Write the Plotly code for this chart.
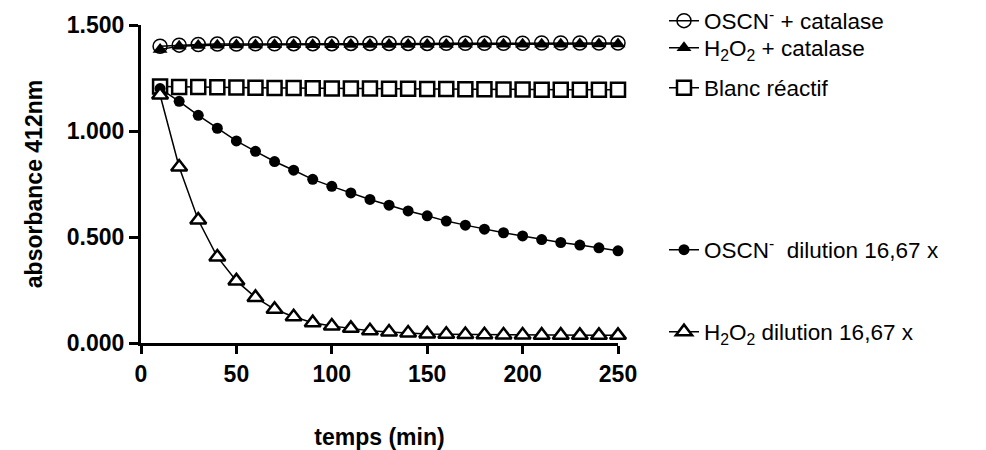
import plotly.graph_objects as go

time_min = [10, 20, 30, 40, 50, 60, 70, 80, 90, 100, 110, 120, 130, 140, 150,
            160, 170, 180, 190, 200, 210, 220, 230, 240, 250]

oscn_catalase = [1.400, 1.405, 1.408, 1.410, 1.410, 1.411, 1.411, 1.412, 1.412, 1.412,
                 1.413, 1.413, 1.413, 1.413, 1.413, 1.414, 1.414, 1.414, 1.414, 1.414,
                 1.415, 1.415, 1.415, 1.415, 1.415]
h2o2_catalase = [1.385, 1.400, 1.403, 1.405, 1.406, 1.406, 1.407, 1.407, 1.407, 1.407,
                 1.408, 1.408, 1.408, 1.408, 1.408, 1.408, 1.409, 1.409, 1.409, 1.409,
                 1.409, 1.409, 1.410, 1.410, 1.410]
blanc_reactif = [1.210, 1.208, 1.207, 1.206, 1.205, 1.204, 1.203, 1.203, 1.202, 1.201,
                 1.200, 1.200, 1.199, 1.199, 1.198, 1.198, 1.197, 1.197, 1.196, 1.196,
                 1.195, 1.195, 1.195, 1.194, 1.194]
oscn_dilution = [1.200, 1.140, 1.074, 1.013, 0.953, 0.904, 0.856, 0.815, 0.772, 0.739,
                 0.708, 0.677, 0.650, 0.623, 0.600, 0.575, 0.556, 0.537, 0.520, 0.505,
                 0.488, 0.474, 0.462, 0.449, 0.435]
h2o2_dilution = [1.170, 0.830, 0.580, 0.406, 0.293, 0.215, 0.159, 0.124, 0.096, 0.080,
                 0.069, 0.058, 0.052, 0.047, 0.043, 0.041, 0.040, 0.039, 0.038, 0.038,
                 0.037, 0.037, 0.036, 0.036, 0.036]

series_names = ["OSCN<sup>-</sup> + catalase",
                "H<sub>2</sub>O<sub>2</sub> + catalase",
                "Blanc réactif",
                "OSCN<sup>-</sup>  dilution 16,67 x",
                "H<sub>2</sub>O<sub>2</sub> dilution 16,67 x"]

x_ticks = [0, 50, 100, 150, 200, 250]
y_ticks = [0.0, 0.5, 1.0, 1.5]

W, H = 986, 450
L, R, T, B = 141, 368, 24.5, 107
FONT = "Liberation Sans, Arial, sans-serif"

fig = go.Figure()

styles = [
    (oscn_catalase, dict(symbol="circle-open", size=14, color="black", line=dict(width=1.5, color="black"))),
    (h2o2_catalase, dict(symbol="triangle-up", size=13, color="black", line=dict(width=0))),
    (blanc_reactif, dict(symbol="square", size=14, color="white", line=dict(width=2.5, color="black"))),
    (oscn_dilution, dict(symbol="circle", size=11, color="black", line=dict(width=0))),
    (h2o2_dilution, dict(symbol="triangle-up", size=14, color="white", line=dict(width=2.5, color="black"))),
]

legend_y_px = [21, 48, 88, 250, 332]
legend_ids = ["legend", "legend2", "legend3", "legend4", "legend5"]

for i, ((vals, mk), name) in enumerate(zip(styles, series_names)):
    fig.add_trace(go.Scatter(
        x=time_min, y=vals, mode="lines+markers", name=name,
        line=dict(color="black", width=1.5),
        marker=mk, cliponaxis=False, legend=legend_ids[i],
    ))

layout_legends = {}
for lid, ypx in zip(legend_ids, legend_y_px):
    layout_legends[lid] = dict(
        xref="container", yref="container",
        x=664 / W, y=1 - ypx / H, xanchor="left", yanchor="middle",
        font=dict(family=FONT, size=22.5, color="black"),
        bgcolor="rgba(0,0,0,0)", itemwidth=30, tracegroupgap=0,
    )

fig.update_layout(
    width=W, height=H,
    margin=dict(l=L, r=R, t=T, b=B, autoexpand=False),
    paper_bgcolor="white", plot_bgcolor="white",
    showlegend=True,
    font=dict(family=FONT, color="black"),
    **layout_legends,
)

fig.update_xaxes(
    range=[0, 250], tickvals=x_ticks, ticks="outside", ticklen=8, tickwidth=3,
    tickcolor="black", showline=True, linewidth=3, linecolor="black",
    showgrid=False, zeroline=False, automargin=False,
    tickfont=dict(size=23, family=FONT, weight="bold"),
    title=dict(text="<b>temps (min)</b>", font=dict(size=23), standoff=48),
)
fig.update_yaxes(
    range=[0, 1.5], tickvals=y_ticks, tickformat=".3f", ticks="outside", ticklen=9,
    tickwidth=3, tickcolor="black", showline=True, linewidth=3, linecolor="black",
    showgrid=False, zeroline=False, automargin=False,
    tickfont=dict(size=23, family=FONT, weight="bold"),
    title=dict(text="<b>absorbance 412nm</b>", font=dict(size=23), standoff=18),
)

fig.write_html("out.html")
